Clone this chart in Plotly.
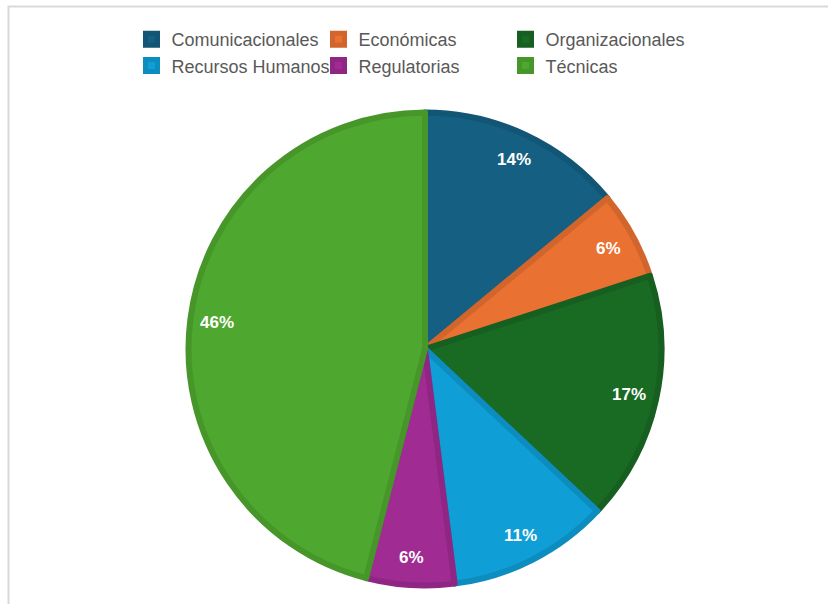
import math
import plotly.graph_objects as go

# Categories and their share of the total (%)
categories = ["Comunicacionales", "Económicas", "Organizacionales",
              "Recursos Humanos", "Regulatorias", "Técnicas"]
shares = [14, 6, 17, 11, 6, 46]

fill_colors = ["#156082", "#E97132", "#196B24", "#0F9ED5", "#A02B93", "#4EA72E"]
edge_colors = ["#125574", "#D2652C", "#165F20", "#0D8DBF", "#8F2684", "#46962A"]

W, H = 828, 604
ML, MR = 100, 100                  # side margins keep the legend to three columns
PW = W - ML - MR
CX, CY, R = 425, 349, 236.5        # pie centre (px from top-left) and radius
LABEL_R = 0.885                    # radial position of the percentage labels


def fx(px):
    """Horizontal pixel position -> paper fraction."""
    return (px - ML) / PW


def fy(py):
    """Vertical pixel position (from top) -> paper fraction."""
    return 1 - py / H


fig = go.Figure(go.Pie(
    labels=categories,
    values=shares,
    sort=False,
    direction="clockwise",
    rotation=0,
    textinfo="none",
    hoverinfo="label+percent",
    marker=dict(colors=fill_colors, line=dict(color=edge_colors, width=6)),
    domain=dict(x=[fx(CX - R), fx(CX + R)], y=[fy(CY + R), fy(CY - R)]),
))

# Percentage labels placed along each slice's bisector
total = sum(shares)
annotations = []
acc = 0
for v in shares:
    mid = (acc + v / 2) / total * 2 * math.pi
    acc += v
    px = CX + LABEL_R * R * math.sin(mid)
    py = CY - LABEL_R * R * math.cos(mid)
    annotations.append(dict(
        x=fx(px), y=fy(py), xref="paper", yref="paper",
        xanchor="center", yanchor="middle",
        text=f"{round(v / total * 100)}%", showarrow=False,
        font=dict(family="Liberation Sans, Arial, sans-serif", size=17,
                  color="white", weight="bold"),
    ))

fig.update_layout(
    width=W, height=H,
    margin=dict(l=ML, r=MR, t=0, b=0, autoexpand=False),
    paper_bgcolor="white",
    plot_bgcolor="white",
    annotations=annotations,
    showlegend=True,
    legend=dict(
        orientation="h",
        x=fx(412), xanchor="center",
        y=fy(21), yanchor="top",
        entrywidth=142, entrywidthmode="pixels",
        font=dict(family="Liberation Sans, Arial, sans-serif", size=18,
                  color="#595959"),
        bgcolor="rgba(0,0,0,0)",
        traceorder="normal",
    ),
    shapes=[dict(
        type="rect", xref="paper", yref="paper",
        x0=fx(8.5), x1=fx(W + 20), y0=fy(H + 20), y1=fy(6.5),
        line=dict(color="#D9D9D9", width=2), fillcolor="rgba(0,0,0,0)",
        layer="below",
    )],
)

fig.write_html("out.html")
